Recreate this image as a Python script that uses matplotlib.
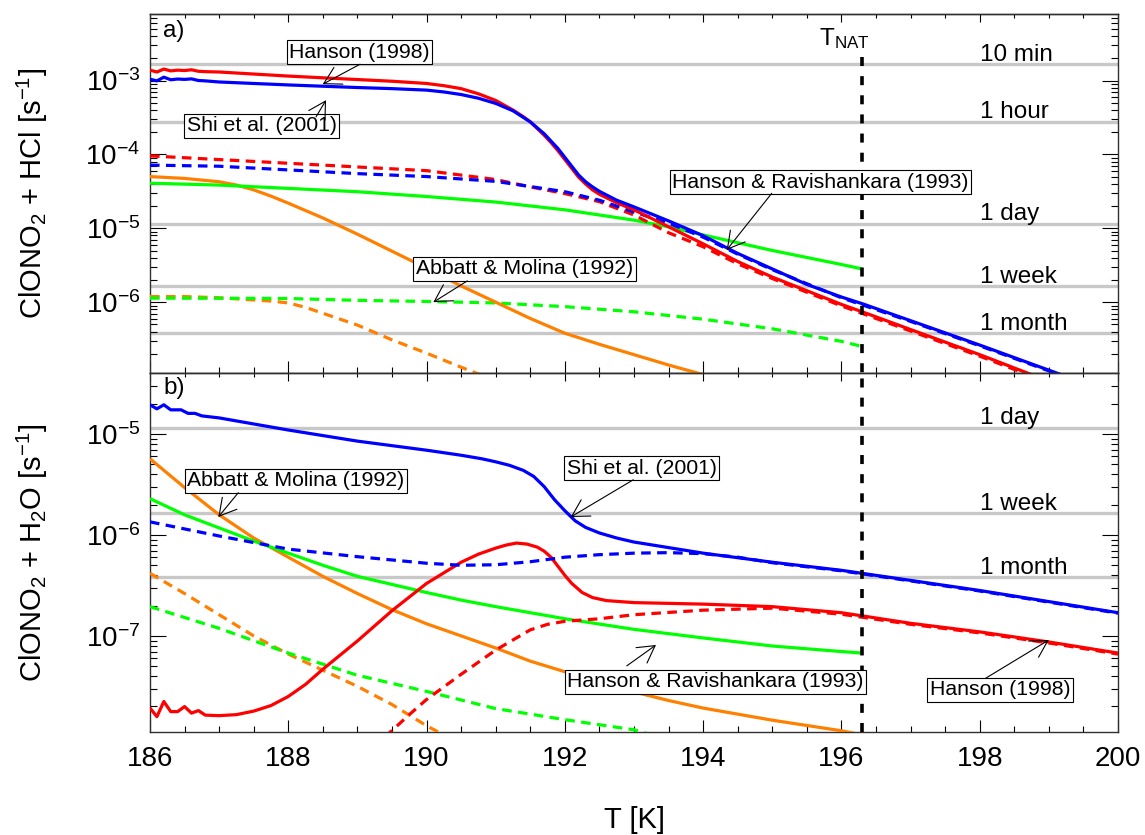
import numpy as np
import matplotlib
matplotlib.use("Agg")
import matplotlib.pyplot as plt
from matplotlib.ticker import LogLocator, MultipleLocator, NullFormatter

plt.rcParams['font.family'] = ['Liberation Sans', 'DejaVu Sans']
plt.rcParams['mathtext.fontset'] = 'custom'
plt.rcParams['mathtext.rm'] = 'Liberation Sans'
plt.rcParams['mathtext.it'] = 'Liberation Sans:italic'
plt.rcParams['mathtext.bf'] = 'Liberation Sans:bold'

# ---------------------------------------------------------------
# Reaction rates, stored as log10 of the rate in s^-1
# ---------------------------------------------------------------
T_NAT = 196.3

# (a) ClONO2 + HCl
T_a_solid = [186.0, 186.1, 186.2, 186.3, 186.4, 186.5, 186.6, 186.7, 186.8, 187.0,
             188.0, 189.0, 189.5, 190.0, 190.25, 190.5, 190.75, 191.0, 191.25, 191.4,
             191.5, 191.6, 191.7, 191.8, 191.9, 192.0, 192.1, 192.2, 192.3, 192.4,
             192.5, 192.75, 193.0, 193.5, 194.0, 194.5, 195.0, 195.5, 196.0, 196.3,
             197.0, 198.0, 199.0, 200.0]
hanson98_a = [-2.86, -2.885, -2.845, -2.87, -2.86, -2.865, -2.855, -2.875, -2.88, -2.885,
              -2.94, -2.987, -3.01, -3.04, -3.07, -3.11, -3.18, -3.27, -3.40, -3.49,
              -3.56, -3.65, -3.74, -3.84, -3.95, -4.07, -4.19, -4.31, -4.40, -4.48,
              -4.54, -4.655, -4.75, -4.98, -5.21, -5.45, -5.66, -5.845, -6.03, -6.13,
              -6.37, -6.71, -7.07, -7.43]
shi01_a = [-2.983, -3.005, -2.955, -2.99, -2.98, -2.985, -2.978, -3.0, -3.005, -3.02,
           -3.06, -3.095, -3.11, -3.13, -3.155, -3.19, -3.24, -3.31, -3.41, -3.50,
           -3.56, -3.64, -3.72, -3.82, -3.92, -4.04, -4.16, -4.28, -4.37, -4.44,
           -4.50, -4.62, -4.71, -4.90, -5.10, -5.34, -5.55, -5.76, -5.93, -6.02,
           -6.25, -6.58, -6.92, -7.26]

T_a_dash = [186, 187, 188, 189, 190, 191, 191.5, 192, 192.5, 193, 193.5, 194,
            194.5, 195, 196, 197, 198, 199, 200]
hanson98_a_d = [-4.02, -4.07, -4.12, -4.17, -4.22, -4.34, -4.44, -4.53, -4.64, -4.82,
                -5.06, -5.25, -5.48, -5.68, -6.05, -6.39, -6.73, -7.09, -7.45]
shi01_a_d = [-4.145, -4.16, -4.21, -4.26, -4.30, -4.365, -4.435, -4.505, -4.62, -4.78,
             -4.93, -5.12, -5.35, -5.56, -5.94, -6.26, -6.59, -6.93, -7.27]

T_a_hr = [186, 187, 188, 189, 190, 191, 192, 193, 193.5, 194, 195, 196, 196.3]
hr93_a = [-4.39, -4.415, -4.46, -4.505, -4.57, -4.645, -4.75, -4.89, -4.98, -5.09,
          -5.30, -5.49, -5.55]
T_a_hr_d = [186, 187, 188, 189, 190, 191, 192, 193, 194, 195, 196, 196.3]
hr93_a_d = [-5.945, -5.947, -5.95, -5.975, -5.99, -6.01, -6.06, -6.13, -6.23, -6.36,
            -6.53, -6.60]

T_a_am = [186, 186.5, 187, 187.25, 187.5, 187.75, 188, 188.5, 189, 189.5, 190, 190.5,
          191, 191.5, 192, 192.5, 193, 193.5, 194]
am92_a = [-4.30, -4.325, -4.37, -4.415, -4.48, -4.565, -4.66, -4.86, -5.08, -5.31,
          -5.54, -5.78, -6.0, -6.22, -6.42, -6.57, -6.71, -6.85, -6.98]
T_a_am_d = [186, 186.5, 187, 187.5, 187.75, 188, 188.25, 188.5, 189, 189.5, 190,
            190.5, 190.8]
am92_a_d = [-5.924, -5.924, -5.94, -5.97, -5.985, -6.01, -6.07, -6.15, -6.31, -6.51,
            -6.69, -6.88, -6.99]

# (b) ClONO2 + H2O
T_b_shi = [186.0, 186.1, 186.2, 186.3, 186.45, 186.55, 186.65, 186.75, 187.0, 188.0,
           189.0, 189.5, 190.0, 190.5, 190.8, 191.0, 191.2, 191.4, 191.55, 191.7,
           191.85, 192.0, 192.15, 192.3, 192.5, 192.75, 193.0, 194.0, 195.0, 196.0,
           197.0, 198.0, 199.0, 200.0]
shi01_b = [-4.71, -4.75, -4.71, -4.76, -4.76, -4.795, -4.795, -4.82, -4.84, -4.96,
           -5.07, -5.115, -5.16, -5.21, -5.245, -5.275, -5.31, -5.36, -5.42, -5.52,
           -5.65, -5.76, -5.86, -5.925, -5.98, -6.03, -6.07, -6.18, -6.27, -6.35,
           -6.45, -6.55, -6.66, -6.77]
T_b_shi_d = [186, 187, 188, 189, 190, 190.5, 191, 191.5, 192, 192.5, 193, 193.5,
             194, 194.5, 195, 196, 197, 198, 199, 200]
shi01_b_d = [-5.87, -6.01, -6.14, -6.215, -6.28, -6.30, -6.295, -6.265, -6.22, -6.195,
             -6.18, -6.175, -6.185, -6.22, -6.275, -6.355, -6.455, -6.555, -6.665, -6.775]

T_b_han = [186.0, 186.1, 186.2, 186.3, 186.4, 186.5, 186.6, 186.7, 186.8, 187.0,
           187.25, 187.5, 187.75, 188.0, 188.25, 188.5, 188.75, 189.0, 189.5, 190.0,
           190.5, 190.75, 191.0, 191.15, 191.3, 191.45, 191.6, 191.7, 191.8, 191.9,
           192.0, 192.1, 192.25, 192.4, 192.6, 193.0, 194.0, 195.0, 196.0, 197.0,
           198.0, 199.0, 200.0]
hanson98_b = [-7.715, -7.80, -7.65, -7.75, -7.75, -7.70, -7.765, -7.74, -7.785, -7.79,
              -7.78, -7.745, -7.69, -7.60, -7.48, -7.33, -7.19, -7.05, -6.75, -6.48,
              -6.27, -6.19, -6.13, -6.10, -6.08, -6.09, -6.12, -6.16, -6.22, -6.31,
              -6.40, -6.48, -6.57, -6.62, -6.65, -6.67, -6.685, -6.71, -6.77, -6.875,
              -6.96, -7.06, -7.17]
T_b_han_d = [189.4, 189.75, 190, 190.5, 191, 191.5, 191.75, 192, 192.5, 193, 194, 195,
             196, 197, 198, 199, 200]
hanson98_b_d = [-8.0, -7.78, -7.63, -7.38, -7.14, -6.94, -6.885, -6.855, -6.83, -6.79,
                -6.745, -6.725, -6.785, -6.885, -6.97, -7.07, -7.18]

T_b_hr = [186, 186.5, 187, 187.5, 188, 188.5, 189, 189.5, 190, 190.5, 191, 192, 193,
          194, 195, 196, 196.3]
hr93_b = [-5.64, -5.80, -5.93, -6.06, -6.18, -6.30, -6.41, -6.49, -6.57, -6.645,
          -6.71, -6.83, -6.935, -7.02, -7.10, -7.155, -7.17]
T_b_hr_d = [186, 187, 188, 189, 190, 191, 192, 193, 193.2]
hr93_b_d = [-6.71, -6.925, -7.17, -7.39, -7.55, -7.72, -7.83, -7.93, -7.97]

T_b_am = [186, 186.5, 187, 187.5, 188, 188.5, 189, 189.5, 190, 190.5, 191, 191.5,
          192, 192.5, 193, 193.5, 194, 195, 196, 196.3]
am92_b = [-5.245, -5.53, -5.80, -6.03, -6.22, -6.41, -6.58, -6.74, -6.88, -7.0,
          -7.12, -7.25, -7.355, -7.46, -7.555, -7.64, -7.715, -7.835, -7.94, -7.98]
T_b_am_d = [186, 186.5, 187, 187.5, 188, 188.5, 189, 189.5, 190, 190.3]
am92_b_d = [-6.38, -6.58, -6.79, -7.0, -7.18, -7.34, -7.50, -7.68, -7.89, -8.0]

# reference time scales (lifetime -> rate)
time_labels = ['10 min', '1 hour', '1 day', '1 week', '1 month']
time_seconds = [600, 3600, 86400, 7 * 86400, 30 * 86400]

RED, BLUE, GREEN, ORANGE = '#ff0000', '#0000ff', '#00ff00', '#ff8000'
LW = 2.3
DASH = (3, 2)

# ---------------------------------------------------------------
fig = plt.figure(figsize=(11.45, 8.35), dpi=100)
W, H = 1145.0, 835.0
left, right = 150 / W, 1118 / W
ax_a = fig.add_axes([left, 1 - 373.5 / H, right - left, (373.5 - 14) / H])
ax_b = fig.add_axes([left, 1 - 732.3 / H, right - left, (732.3 - 373.5) / H])

ax_a.set_ylim(10 ** -6.965, 10 ** -2.10)
ax_b.set_ylim(10 ** -7.955, 10 ** -4.40)


def curve(ax, T, logk, color, dashed=False, z=3):
    kw = dict(color=color, lw=LW, zorder=z, solid_capstyle='butt',
              solid_joinstyle='round')
    if dashed:
        kw['dashes'] = DASH
    ax.plot(T, 10 ** np.asarray(logk), **kw)


# panel (a)
curve(ax_a, T_a_am_d, am92_a_d, ORANGE, True)
curve(ax_a, T_a_hr_d, hr93_a_d, GREEN, True)
curve(ax_a, T_a_am, am92_a, ORANGE)
curve(ax_a, T_a_hr, hr93_a, GREEN)
curve(ax_a, T_a_dash, hanson98_a_d, RED, True)
curve(ax_a, T_a_dash, shi01_a_d, BLUE, True)
curve(ax_a, T_a_solid, hanson98_a, RED)
curve(ax_a, T_a_solid, shi01_a, BLUE)

# panel (b)
curve(ax_b, T_b_am_d, am92_b_d, ORANGE, True)
curve(ax_b, T_b_hr_d, hr93_b_d, GREEN, True)
curve(ax_b, T_b_am, am92_b, ORANGE)
curve(ax_b, T_b_hr, hr93_b, GREEN)
curve(ax_b, T_b_han_d, hanson98_b_d, RED, True)
curve(ax_b, T_b_han, hanson98_b, RED)
curve(ax_b, T_b_shi_d, shi01_b_d, BLUE, True)
curve(ax_b, T_b_shi, shi01_b, BLUE)

# lifetime reference lines with labels
for ax in (ax_a, ax_b):
    lo, hi = ax.get_ylim()
    for lbl, sec in zip(time_labels, time_seconds):
        rate = 1.0 / sec
        if lo < rate < hi:
            ax.axhline(rate, color='#c8c8c8', lw=2.4, zorder=1)
            ax.annotate(lbl, xy=(198.0, rate), xytext=(0, 2.3),
                        textcoords='offset points', ha='left', va='baseline',
                        fontsize=17.5, zorder=4)

# NAT existence temperature
ax_a.plot([T_NAT, T_NAT], [10 ** -2.685, 10 ** -7.2], color='black', lw=2.6,
          dashes=(2.5, 2.8), zorder=5)
ax_b.axvline(T_NAT, color='black', lw=2.6, dashes=(2.5, 2.8), zorder=5)
ax_a.text(196.04, 10 ** -2.523, r'$\mathregular{T_{NAT}}$', ha='center',
          va='baseline', fontsize=17.5)

# axes styling
for ax in (ax_a, ax_b):
    ax.set_xlim(186, 200)
    ax.set_yscale('log')
    ax.xaxis.set_major_locator(MultipleLocator(2))
    ax.xaxis.set_minor_locator(MultipleLocator(0.5))
    ax.yaxis.set_major_locator(LogLocator(base=10, numticks=20))
    ax.yaxis.set_minor_locator(LogLocator(base=10, subs=np.arange(2, 10), numticks=20))
    ax.yaxis.set_minor_formatter(NullFormatter())
    ax.tick_params(axis='y', which='major', direction='in', length=11.5, width=0.8,
                   left=True, right=True, labelsize=20, pad=7)
    ax.tick_params(axis='y', which='minor', direction='in', length=5, width=0.8,
                   left=True, right=True)
    ax.tick_params(axis='x', which='major', direction='in', length=8.6, width=0.8,
                   top=False, bottom=True, labelsize=20, pad=10)
    ax.tick_params(axis='x', which='minor', direction='in', length=4.3, width=0.8,
                   top=False, bottom=True)
    for sp in ax.spines.values():
        sp.set_linewidth(1.0)
        sp.set_color('#303030')
    top = ax.secondary_xaxis('top')
    top.xaxis.set_major_locator(MultipleLocator(2))
    top.xaxis.set_minor_locator(MultipleLocator(0.5))
    top.xaxis.set_major_formatter(NullFormatter())
    top.tick_params(which='major', direction='in', length=5.5, width=0.8, labeltop=False)
    top.tick_params(which='minor', direction='in', length=2.8, width=0.8)
    top.spines['top'].set_linewidth(1.0)
    top.spines['top'].set_color('#303030')

ax_a.tick_params(axis='x', labelbottom=False)

ax_a.text(0.0134, 0.983, 'a)', transform=ax_a.transAxes, ha='left', va='top', fontsize=17.5)
ax_b.text(0.0134, 0.991, 'b)', transform=ax_b.transAxes, ha='left', va='top', fontsize=17.5)

fig.text(32 / W, 1 - 193.75 / H, r'ClONO$_2$ + HCl [s$^{-1}$]', rotation=90,
         ha='center', va='center', fontsize=21)
fig.text(32 / W, 1 - 553 / H, r'ClONO$_2$ + H$_2$O [s$^{-1}$]', rotation=90,
         ha='center', va='center', fontsize=21)
fig.text(634 / W, 1 - 820 / H, 'T [K]', ha='center', va='center', fontsize=21)


# labelled pointers to the individual parameterisations
def label_box(ax, T, logk, s):
    ax.text(T, 10 ** logk, s, fontsize=15.3, ha='center', va='center', zorder=8,
            bbox=dict(boxstyle='square,pad=0.12', fc='white', ec='black', lw=0.8))


def pointer(ax, tail, head):
    ax.annotate('', xy=(head[0], 10 ** head[1]), xytext=(tail[0], 10 ** tail[1]),
                zorder=9,
                arrowprops=dict(arrowstyle='->,head_length=0.6,head_width=0.34',
                                mutation_scale=20, lw=0.8, color='black',
                                shrinkA=0, shrinkB=0))


label_box(ax_a, 189.03, -2.618, 'Hanson (1998)')
pointer(ax_a, (189.037, -2.780), (188.498, -3.050))
label_box(ax_a, 187.613, -3.611, 'Shi et al. (2001)')
pointer(ax_a, (188.401, -3.492), (188.546, -3.266))
label_box(ax_a, 195.698, -4.374, 'Hanson & Ravishankara (1993)')
pointer(ax_a, (194.992, -4.527), (194.341, -5.293))
label_box(ax_a, 191.414, -5.548, 'Abbatt & Molina (1992)')
pointer(ax_a, (190.589, -5.712), (190.098, -6.0))

label_box(ax_b, 188.107, -5.464, 'Abbatt & Molina (1992)')
pointer(ax_b, (187.277, -5.581), (186.988, -5.822))
label_box(ax_b, 193.109, -5.337, 'Shi et al. (2001)')
pointer(ax_b, (192.990, -5.453), (192.085, -5.822))
label_box(ax_b, 194.18, -7.455, 'Hanson & Ravishankara (1993)')
pointer(ax_b, (192.895, -7.297), (193.318, -7.090))
label_box(ax_b, 198.292, -7.535, 'Hanson (1998)')
pointer(ax_b, (198.087, -7.419), (199.0, -7.040))

fig.savefig('out.png', dpi=100)
